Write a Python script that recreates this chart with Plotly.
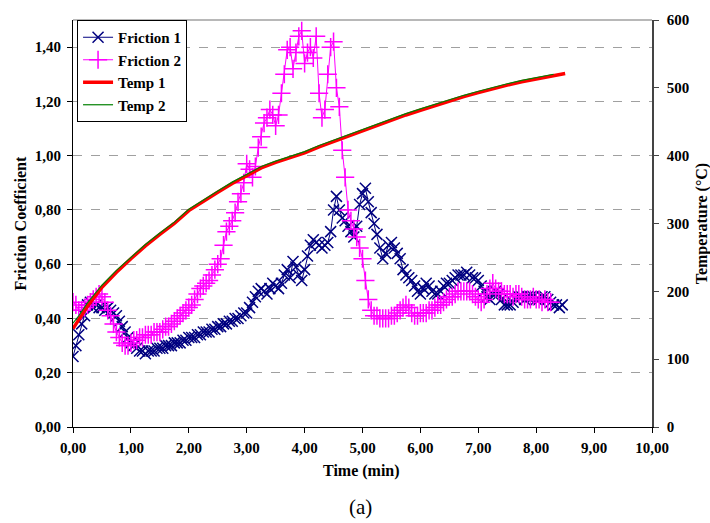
import plotly.graph_objects as go

# ---------------- data ----------------
t_f1 = [0.00,0.05,0.10,0.15,0.20,0.25,0.30,0.35,0.40,0.45,0.50,0.55,0.60,0.65,0.70,0.75,0.80,0.85,0.90,0.95,
        1.00,1.05,1.10,1.15,1.20,1.25,1.30,1.35,1.40,1.45,1.50,1.55,1.60,1.65,1.70,1.75,1.80,1.85,1.90,1.95,
        2.00,2.05,2.10,2.15,2.20,2.25,2.30,2.35,2.40,2.45,2.50,2.55,2.60,2.65,2.70,2.75,2.80,2.85,2.90,2.95,
        3.00,3.05,3.10,3.15,3.20,3.25,3.30,3.35,3.40,3.45,3.50,3.55,3.60,3.65,3.70,3.75,3.80,3.85,3.90,3.95,
        4.00,4.05,4.10,4.15,4.20,4.25,4.30,4.35,4.40,4.45,4.50,4.55,4.60,4.65,4.70,4.75,4.80,4.85,4.90,4.95,
        5.00,5.05,5.10,5.15,5.20,5.25,5.30,5.35,5.40,5.45,5.50,5.55,5.60,5.65,5.70,5.75,5.80,5.85,5.90,5.95,
        6.00,6.05,6.10,6.15,6.20,6.25,6.30,6.35,6.40,6.45,6.50,6.55,6.60,6.65,6.70,6.75,6.80,6.85,6.90,6.95,
        7.00,7.05,7.10,7.15,7.20,7.25,7.30,7.35,7.40,7.45,7.50,7.55,7.60,7.65,7.70,7.75,7.80,7.85,7.90,7.95,
        8.00,8.05,8.10,8.15,8.20,8.25,8.30,8.35,8.40,8.45]
friction1 = [0.26,0.30,0.34,0.38,0.41,0.45,0.46,0.44,0.45,0.44,0.44,0.43,0.44,0.43,0.42,0.41,0.39,0.37,0.35,0.33,
             0.31,0.30,0.29,0.28,0.28,0.27,0.28,0.28,0.28,0.29,0.29,0.29,0.30,0.30,0.30,0.31,0.31,0.31,0.32,0.32,
             0.33,0.33,0.33,0.34,0.34,0.35,0.35,0.35,0.36,0.36,0.37,0.37,0.38,0.38,0.39,0.39,0.40,0.40,0.41,0.42,
             0.42,0.44,0.46,0.48,0.50,0.51,0.50,0.49,0.51,0.53,0.52,0.51,0.53,0.56,0.58,0.55,0.61,0.59,0.56,0.54,
             0.58,0.63,0.67,0.69,0.68,0.67,0.66,0.67,0.68,0.72,0.80,0.85,0.80,0.77,0.76,0.74,0.72,0.70,0.74,0.82,
             0.86,0.88,0.83,0.79,0.75,0.71,0.66,0.62,0.64,0.67,0.68,0.66,0.64,0.62,0.58,0.56,0.55,0.54,0.52,0.50,
             0.49,0.51,0.53,0.52,0.50,0.49,0.49,0.50,0.52,0.53,0.53,0.54,0.55,0.56,0.56,0.56,0.57,0.56,0.55,0.55,
             0.54,0.52,0.50,0.48,0.47,0.49,0.50,0.49,0.47,0.45,0.45,0.45,0.46,0.47,0.48,0.48,0.47,0.48,0.48,0.48,
             0.47,0.47,0.48,0.48,0.47,0.46,0.45,0.45,0.44,0.45]

t_f2 = [0.00,0.05,0.10,0.15,0.20,0.25,0.30,0.35,0.40,0.45,0.50,0.55,0.60,0.65,0.70,0.75,0.80,0.85,0.90,0.95,
        1.00,1.05,1.10,1.15,1.20,1.25,1.30,1.35,1.40,1.45,1.50,1.55,1.60,1.65,1.70,1.75,1.80,1.85,1.90,1.95,
        2.00,2.05,2.10,2.15,2.20,2.25,2.30,2.35,2.40,2.45,2.50,2.55,2.60,2.65,2.70,2.75,2.80,2.85,2.90,2.95,
        3.00,3.05,3.10,3.15,3.20,3.25,3.30,3.35,3.40,3.45,3.50,3.55,3.60,3.65,3.70,3.75,3.80,3.85,3.90,3.95,
        4.00,4.05,4.10,4.15,4.20,4.25,4.30,4.35,4.40,4.45,4.50,4.55,4.60,4.65,4.70,4.75,4.80,4.85,4.90,4.95,
        5.00,5.05,5.10,5.15,5.20,5.25,5.30,5.35,5.40,5.45,5.50,5.55,5.60,5.65,5.70,5.75,5.80,5.85,5.90,5.95,
        6.00,6.05,6.10,6.15,6.20,6.25,6.30,6.35,6.40,6.45,6.50,6.55,6.60,6.65,6.70,6.75,6.80,6.85,6.90,6.95,
        7.00,7.05,7.10,7.15,7.20,7.25,7.30,7.35,7.40,7.45,7.50,7.55,7.60,7.65,7.70,7.75,7.80,7.85,7.90,7.95,
        8.00,8.05,8.10,8.15,8.20,8.25]
friction2 = [0.46,0.45,0.43,0.43,0.44,0.45,0.46,0.47,0.48,0.49,0.48,0.46,0.43,0.41,0.38,0.35,0.33,0.31,0.30,0.30,
             0.31,0.32,0.32,0.33,0.33,0.34,0.34,0.34,0.35,0.35,0.35,0.36,0.37,0.37,0.38,0.39,0.40,0.41,0.42,0.43,
             0.44,0.45,0.47,0.49,0.51,0.52,0.53,0.54,0.56,0.58,0.60,0.62,0.67,0.72,0.74,0.76,0.79,0.83,0.86,0.90,
             0.97,0.95,0.92,0.96,1.03,1.07,1.12,1.14,1.17,1.15,1.11,1.15,1.23,1.30,1.39,1.40,1.32,1.38,1.44,1.46,
             1.34,1.38,1.40,1.36,1.44,1.23,1.14,1.17,1.30,1.40,1.42,1.25,1.18,1.02,0.92,0.80,0.76,0.73,0.70,0.66,
             0.62,0.54,0.47,0.43,0.41,0.41,0.40,0.40,0.40,0.40,0.41,0.41,0.42,0.43,0.44,0.45,0.44,0.42,0.41,0.41,
             0.42,0.42,0.42,0.43,0.43,0.44,0.45,0.45,0.46,0.47,0.48,0.48,0.49,0.50,0.50,0.50,0.50,0.50,0.49,0.48,
             0.47,0.46,0.47,0.49,0.51,0.53,0.51,0.50,0.50,0.49,0.49,0.49,0.48,0.49,0.49,0.48,0.47,0.47,0.47,0.48,
             0.47,0.47,0.46,0.47,0.46,0.46]

t_temp1 = [0.00,0.10,0.25,0.50,0.75,1.00,1.25,1.50,1.75,2.00,2.25,2.50,2.75,3.00,3.25,3.50,3.75,4.00,
           4.25,4.50,4.75,5.00,5.25,5.50,5.75,6.00,6.25,6.50,6.75,7.00,7.25,7.50,7.75,8.00,8.25,8.50]
temp1 = [145,158,178,206,228,248,267,284,300,319,333,346,359,371,382,390,397,404,
         413,421,429,437,445,452,460,467,474,481,487,493,499,504,509,513,517,521]

t_temp2 = [0.00,0.10,0.25,0.50,0.75,1.00,1.25,1.50,1.75,2.00,2.25,2.50,2.75,3.00,3.25,3.50,3.75,4.00,
           4.25,4.50,4.75,5.00,5.25,5.50,5.75,6.00,6.25,6.50,6.75,7.00,7.25,7.50,7.75,8.00,8.25,8.30]
temp2 = [153,164,183,209,231,250,269,286,302,321,335,348,361,373,384,392,399,406,
         415,423,431,439,447,454,462,469,476,483,489,495,501,506,511,515,519,520]

x_ticks = [0, 1, 2, 3, 4, 5, 6, 7, 8, 9, 10]
y_ticks = [0.0, 0.2, 0.4, 0.6, 0.8, 1.0, 1.2, 1.4]
y2_ticks = [0, 100, 200, 300, 400, 500, 600]

FONT = "'Liberation Serif', 'Times New Roman', Times, serif"
tickfont = dict(family=FONT, size=15, color="black", weight="bold")

fig = go.Figure()
fig.add_trace(go.Scatter(
    x=t_f1, y=friction1, name="Friction 1", mode="lines+markers",
    line=dict(color="#000080", width=1),
    marker=dict(symbol="x-thin", size=11, color="#000080",
                line=dict(color="#000080", width=1.5))))
fig.add_trace(go.Scatter(
    x=t_f2, y=friction2, name="Friction 2", mode="lines+markers",
    line=dict(color="#FF00FF", width=1),
    marker=dict(symbol="cross-thin", size=13, color="#FF00FF",
                line=dict(color="#FF00FF", width=1.5))))
fig.add_trace(go.Scatter(
    x=t_temp1, y=temp1, name="Temp 1", mode="lines", yaxis="y2",
    line=dict(color="#FF0000", width=3.5)))
fig.add_trace(go.Scatter(
    x=t_temp2, y=temp2, name="Temp 2", mode="lines", yaxis="y2",
    line=dict(color="#008000", width=1.2)))

fig.update_layout(
    width=710, height=523,
    margin=dict(l=73, r=58, t=15, b=96, pad=0),
    paper_bgcolor="white", plot_bgcolor="white",
    separators=",.",
    font=dict(family=FONT, color="black"),
    showlegend=True,
    legend=dict(x=0.007, y=1, xanchor="left", yanchor="top",
                bgcolor="white", bordercolor="black", borderwidth=1,
                font=dict(family=FONT, size=15, color="black", weight="bold"),
                itemwidth=30, tracegroupgap=0),
    xaxis=dict(range=[0, 10], tickvals=x_ticks, tickformat=".2f",
               ticks="outside", ticklen=5, tickcolor="black",
               showline=True, linecolor="black", linewidth=1,
               showgrid=False, zeroline=False, tickfont=tickfont,
               ticklabelstandoff=2),
    yaxis=dict(range=[0, 1.5], tickvals=y_ticks, tickformat=".2f",
               ticks="outside", ticklen=5, tickcolor="black",
               showline=True, linecolor="black", linewidth=1,
               showgrid=True, gridcolor="#a0a0a0", gridwidth=1, griddash="dash",
               zeroline=False, tickfont=tickfont, ticklabelstandoff=3),
    yaxis2=dict(range=[0, 600], tickvals=y2_ticks, overlaying="y", side="right",
                ticks="outside", ticklen=5, tickcolor="#444444",
                showline=True, linecolor="#444444", linewidth=1.5,
                showgrid=False, zeroline=False, tickfont=tickfont,
                ticklabelstandoff=5),
    shapes=[dict(type="line", xref="paper", yref="paper", x0=0, x1=1, y0=1, y1=1,
                 line=dict(color="#a0a0a0", width=1.5))],
    annotations=[
        dict(text="Friction Coefficient", xref="paper", yref="paper", x=-0.0915, y=0.5,
             textangle=-90, showarrow=False, xanchor="center", yanchor="middle",
             font=dict(family=FONT, size=16, color="black", weight="bold")),
        dict(text="Temperature (°C)", xref="paper", yref="paper", x=1.086, y=0.5,
             textangle=-90, showarrow=False, xanchor="center", yanchor="middle",
             font=dict(family=FONT, size=16, color="black", weight="bold")),
        dict(text="Time (min)", xref="paper", yref="paper", x=0.499, y=-0.107,
             showarrow=False, xanchor="center", yanchor="middle",
             font=dict(family=FONT, size=16, color="black", weight="bold")),
        dict(text="(a)", xref="paper", yref="paper", x=0.497, y=-0.197,
             showarrow=False, xanchor="center", yanchor="middle",
             font=dict(family=FONT, size=21, color="black")),
    ],
)

fig.write_html("out.html")
